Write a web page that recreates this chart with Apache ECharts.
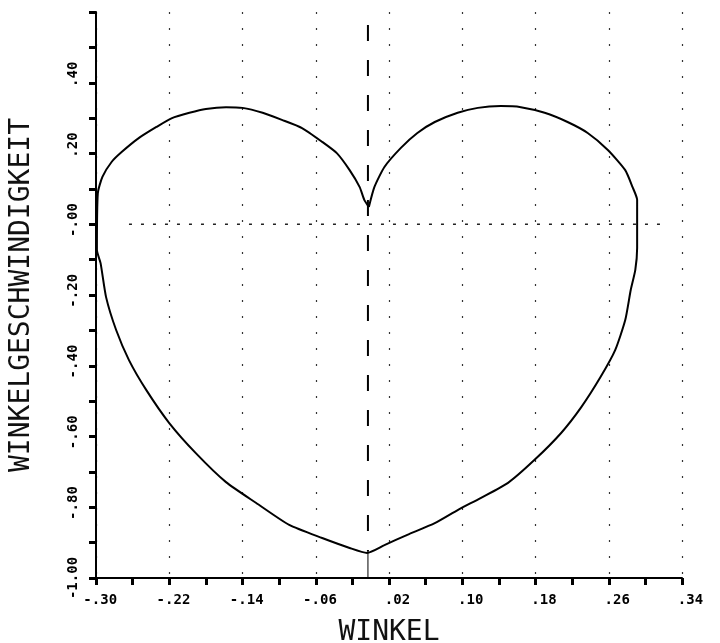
<!DOCTYPE html>
<html>
<head>
<meta charset="utf-8">
<script src="https://cdn.jsdelivr.net/npm/echarts@6/dist/echarts.min.js"></script>
<style>
html, body { margin: 0; padding: 0; background: #fff; }
#chart { width: 720px; height: 643px; }
</style>
</head>
<body>
<div id="chart"></div>
<script>
// Winkel (x) gegen Winkelgeschwindigkeit (y)
var heartX = [-0.002, -0.007, -0.012, -0.023, -0.037, -0.053, -0.075, -0.097, -0.118, -0.140,
  -0.158, -0.180, -0.198, -0.217, -0.234, -0.253, -0.272, -0.283, -0.293, -0.298,
  -0.299, -0.295, -0.289, -0.278, -0.264, -0.245, -0.220, -0.191, -0.158, -0.125,
  -0.089, -0.053, -0.023, -0.004, 0.015, 0.040, 0.070, 0.095, 0.120, 0.150,
  0.179, 0.208, 0.230, 0.251, 0.267, 0.278, 0.284, 0.289, 0.291, 0.291,
  0.286, 0.278, 0.259, 0.237, 0.215, 0.190, 0.164, 0.142, 0.117, 0.095,
  0.070, 0.051, 0.033, 0.015, 0.004, -0.002];
var heartY = [0.049, 0.069, 0.105, 0.153, 0.201, 0.233, 0.272, 0.295, 0.315, 0.329,
  0.331, 0.326, 0.315, 0.300, 0.275, 0.244, 0.204, 0.176, 0.134, 0.088,
  -0.073, -0.110, -0.206, -0.299, -0.384, -0.469, -0.562, -0.647, -0.729, -0.788,
  -0.850, -0.887, -0.915, -0.929, -0.907, -0.878, -0.845, -0.808, -0.774, -0.731,
  -0.666, -0.590, -0.517, -0.432, -0.356, -0.271, -0.186, -0.129, -0.067, 0.069,
  0.105, 0.153, 0.210, 0.258, 0.289, 0.315, 0.331, 0.334, 0.329, 0.315,
  0.289, 0.258, 0.216, 0.162, 0.105, 0.049];

// senkrechte Linie durch die Spitze, waagrechte Nulllinie
var centerX = -0.003;
var centerDashY = [0.563, -0.926];
var centerStemY = [-0.929, -1.0];
var zeroLineX = [-0.264, 0.321];

var xTickLabels = ['-.30', '-.22', '-.14', '-.06', '.02', '.10', '.18', '.26', '.34'];
var yTickLabels = ['-1.00', '-.80', '-.60', '-.40', '-.20', '-.00', '.20', '.40', ''];

var heartData = heartX.map(function (x, i) { return [x, heartY[i]]; });

// Dezimalpunkt genau auf den Strich setzen (Text ist zentriert)
function centerDot(s) {
  if (!s) return '';
  var p = s.indexOf('.');
  var n = s.length;
  var half = Math.max(p, n - 1 - p);
  return new Array(half - p + 1).join(' ') + s + new Array(half - (n - 1 - p) + 1).join(' ');
}

var tickStyle = { color: '#000', width: 3 };
var labelFont = { fontFamily: 'DejaVu Sans Mono', fontWeight: 'bold', fontSize: 14, color: '#000' };
var nameFont = { fontFamily: 'DejaVu Sans Mono', fontSize: 28, color: '#111' };

var option = {
  backgroundColor: '#fff',
  animation: false,
  grid: { left: 96, right: 38, top: 12, bottom: 65, containLabel: false, outerBoundsMode: 'none' },
  xAxis: {
    type: 'value',
    min: -0.30,
    max: 0.34,
    interval: 0.08,
    name: 'WINKEL',
    nameLocation: 'middle',
    nameGap: 41,
    nameTextStyle: nameFont,
    axisLine: { show: true, onZero: false, lineStyle: { color: '#000', width: 2 } },
    axisTick: { show: true, length: 7, lineStyle: tickStyle },
    minorTick: { show: true, splitNumber: 2, length: 7, lineStyle: tickStyle },
    axisLabel: Object.assign({
      margin: 15,
      formatter: function (v) { return centerDot(xTickLabels[Math.round((v + 0.30) / 0.08)]); }
    }, labelFont),
    splitLine: { show: true, lineStyle: { type: [2, 14], color: '#333', width: 1.2 } }
  },
  yAxis: {
    type: 'value',
    min: -1.0,
    max: 0.6,
    interval: 0.2,
    name: 'WINKELGESCHWINDIGKEIT',
    nameLocation: 'middle',
    nameRotate: 90,
    nameGap: 60,
    nameTextStyle: nameFont,
    axisLine: { show: true, onZero: false, lineStyle: { color: '#000', width: 2 } },
    axisTick: { show: true, length: 7, lineStyle: tickStyle },
    minorTick: { show: true, splitNumber: 2, length: 7, lineStyle: tickStyle },
    axisLabel: Object.assign({
      rotate: 90,
      margin: 16,
      formatter: function (v) { return centerDot(yTickLabels[Math.round((v + 1.0) / 0.2)]); }
    }, labelFont),
    splitLine: { show: false }
  },
  series: [
    {
      type: 'line',
      data: [[zeroLineX[0], 0], [zeroLineX[1], 0]],
      symbol: 'none',
      lineStyle: { color: '#222', width: 1.5, type: [3, 9] },
      z: 1
    },
    {
      type: 'line',
      data: [[centerX, centerDashY[0]], [centerX, centerDashY[1]]],
      symbol: 'none',
      lineStyle: { color: '#000', width: 2, type: [16, 19] },
      z: 2
    },
    {
      type: 'line',
      data: [[centerX, centerStemY[0]], [centerX, centerStemY[1]]],
      symbol: 'none',
      lineStyle: { color: '#000', width: 1 },
      z: 2
    },
    {
      type: 'line',
      data: heartData,
      symbol: 'none',
      smooth: 0.2,
      lineStyle: { color: '#000', width: 2 },
      z: 3
    }
  ]
};

var myChart = echarts.init(document.getElementById('chart'));
myChart.setOption(option);
</script>
</body>
</html>
